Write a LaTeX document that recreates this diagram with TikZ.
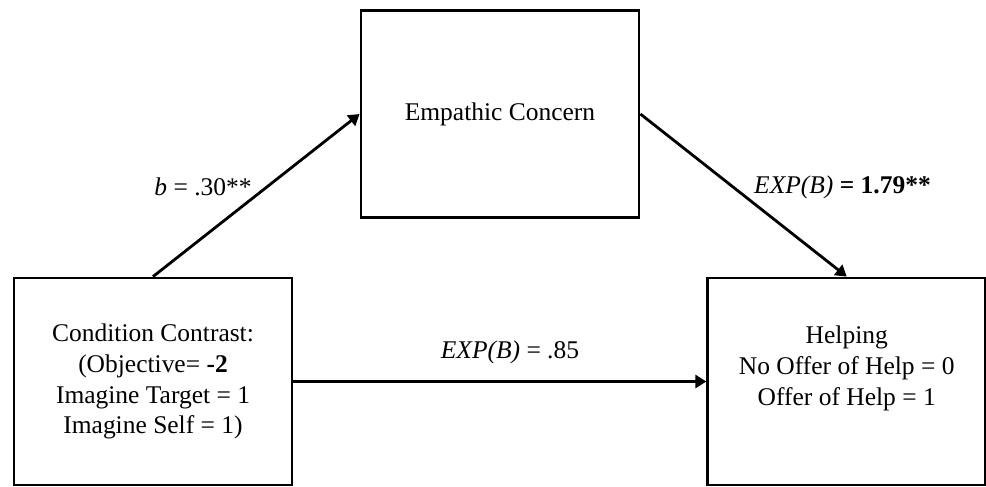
\documentclass[tikz,border=0pt]{standalone}
\usepackage{fontspec}
\setmainfont{Liberation Serif}
\usetikzlibrary{arrows.meta,positioning}
\tikzset{
  varbox/.style={draw, line width=1.6pt, minimum width=5.56cm, minimum height=4.14cm,
    align=center, inner sep=0pt, font=\fontsize{14.5}{17.6}\selectfont},
  effarrow/.style={line width=1.6pt, -{Triangle[length=0.22cm,width=0.26cm]}},
  coef/.style={font=\fontsize{14.5}{17.6}\selectfont, inner sep=0pt}
}
\begin{document}
\begin{tikzpicture}
\useasboundingbox (0,0) rectangle (19.72,9.72);
% variables
\node[varbox] (emp) at (10.0,7.44) {Empathic Concern};
\node[varbox] (cond) at (3.06,2.09) {Condition Contrast:\\(Objective= \textbf{-2}\\Imagine Target = 1\\Imagine Self = 1)};
\node[varbox] (help) at (16.935,2.09) {Helping\\No Offer of Help = 0\\Offer of Help = 1\\~};
% paths
\draw[effarrow] (cond.north) -- (emp.west);
\draw[effarrow] (emp.east) -- (help.north);
\draw[effarrow] (cond.east) -- (help.west);
% coefficients
\node[coef] (coef-a) at (4.06,5.98) {\textit{b} = .30**};
\node[coef] (coef-b) at (16.85,5.98) {\textit{EXP(B)} \textbf{= 1.79**}};
\node[coef] (coef-c) at (10.2,2.68) {\textit{EXP(B)} = .85};
\end{tikzpicture}
\end{document}
